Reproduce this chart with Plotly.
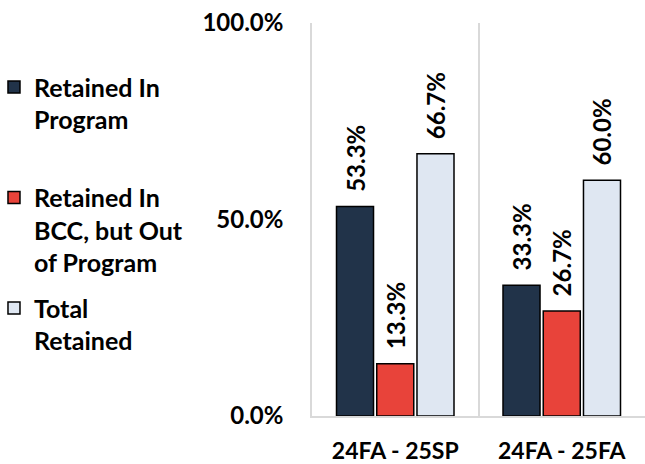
import plotly.graph_objects as go

categories = ["24FA - 25SP", "24FA - 25FA"]
series_names = ["Retained In<br>Program<br>\u00a0", "Retained In<br>BCC, but Out<br>of Program", "Total<br>Retained"]
retained_program = [0.533, 0.333]
retained_bcc = [0.133, 0.267]
total_retained = [0.667, 0.600]
colors = ["#213349", "#E8433A", "#DFE7F2"]

FONT = "Lato"
fig = go.Figure()
for name, vals, col in zip(series_names, [retained_program, retained_bcc, total_retained], colors):
    fig.add_trace(go.Bar(
        x=categories, y=vals, name=name, legendgroup=name,
        marker=dict(color=col, line=dict(color="#000000", width=1.5)),
        text=vals, texttemplate="\u00a0\u00a0%{y:.1%}", textposition="outside",
        textangle=-90, constraintext="none", cliponaxis=False,
        textfont=dict(family=FONT, size=24, color="#000000", weight=700),
    ))

fig.update_layout(
    width=645, height=464,
    margin=dict(l=312, r=0, t=23, b=48, autoexpand=False),
    plot_bgcolor="white", paper_bgcolor="white",
    barmode="group", bargap=0.275, bargroupgap=0.08,
    font=dict(family=FONT, color="#000000", weight=700),
    showlegend=True,
    legend=dict(
        x=-0.955, xanchor="left", y=0.895, yanchor="top",
        font=dict(family=FONT, size=25, color="#000000", weight=700),
        tracegroupgap=10, valign="top", traceorder="grouped",
        bgcolor="rgba(0,0,0,0)",
    ),
    xaxis=dict(
        type="category", tickson="boundaries", showgrid=True, gridcolor="#D9D9D9", gridwidth=1.5,
        ticks="", showline=True, linecolor="#D9D9D9", linewidth=1.5,
        tickfont=dict(family=FONT, size=23, color="#000000", weight=700),
        ticklabelstandoff=14, zeroline=False, automargin=False,
    ),
    yaxis=dict(
        range=[0, 1], dtick=0.5, tickformat=".1%", showgrid=False, zeroline=False,
        showline=True, linecolor="#D9D9D9", linewidth=1.5, ticks="",
        tickfont=dict(family=FONT, size=24, color="#000000", weight=700),
        ticklabelstandoff=22, automargin=False,
    ),
)

fig.write_html("out.html", config={"displayModeBar": False},
               post_script="document.body.style.margin='0px';")
